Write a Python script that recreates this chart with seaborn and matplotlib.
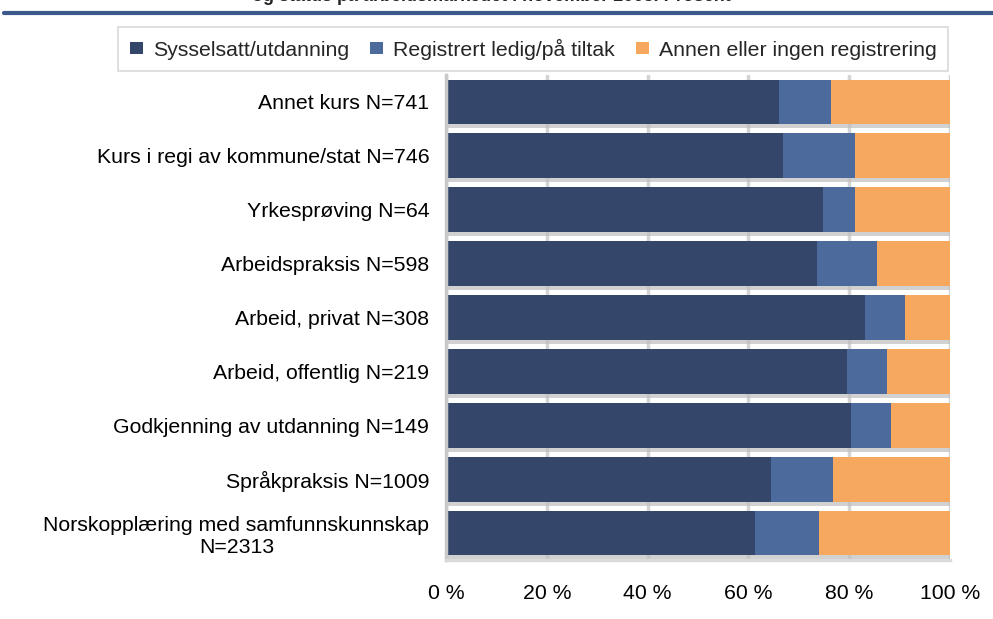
import numpy as np
import pandas as pd
import matplotlib
matplotlib.use("Agg")
import matplotlib.pyplot as plt
import matplotlib.patheffects as pe
from matplotlib.patches import Patch
import seaborn as sns

# data (percent), top to bottom as in the chart
kategorier = ['Annet kurs N=741',
              'Kurs i regi av kommune/stat N=746',
              'Yrkesprøving N=64',
              'Arbeidspraksis N=598',
              'Arbeid, privat N=308',
              'Arbeid, offentlig N=219',
              'Godkjenning av utdanning N=149',
              'Språkpraksis N=1009',
              'Norskopplæring med samfunnskunnskap\nN=2313']
sysselsatt = [66.1, 66.9, 74.8, 73.6, 83.1, 79.6, 80.4, 64.5, 61.3]
ledig = [10.3, 14.3, 6.4, 11.9, 8.0, 7.9, 7.9, 12.3, 12.7]
annen = [100 - a - b for a, b in zip(sysselsatt, ledig)]
serier = ['Sysselsatt/utdanning', 'Registrert ledig/på tiltak', 'Annen eller ingen registrering']
farger = ['#34476A', '#4C6A9C', '#F6A95E']

df = pd.DataFrame({'kat': kategorier, 's': sysselsatt, 'l': ledig, 'a': annen})
df['sl'] = df['s'] + df['l']
df['tot'] = df['sl'] + df['a']

sns.set_style('white')
plt.rcParams['font.family'] = ['Liberation Sans', 'DejaVu Sans']
fs = 15.3

fig = plt.figure(figsize=(9.93, 6.19), dpi=100)
ax = fig.add_axes([446 / 993, 1 - 560 / 619, 504 / 993, 485 / 619])

bw = 0.83
skygge = [pe.SimplePatchShadow(offset=(0, -3), shadow_rgbFace='#BEBEBE', alpha=0.7), pe.Normal()]
sns.barplot(data=df, x='tot', y='kat', color=farger[2], orient='h', width=bw, ax=ax,
            saturation=1, linewidth=0)
for p in ax.patches:
    p.set_path_effects(skygge)
sns.barplot(data=df, x='sl', y='kat', color=farger[1], orient='h', width=bw, ax=ax,
            saturation=1, linewidth=0)
sns.barplot(data=df, x='s', y='kat', color=farger[0], orient='h', width=bw, ax=ax,
            saturation=1, linewidth=0)

ax.set_xlim(0, 100)
ax.set_ylim(len(kategorier) - 0.5, -0.5)
ax.set_xticks([0, 20, 40, 60, 80, 100])
ax.set_xticklabels(['0 %', '20 %', '40 %', '60 %', '80 %', '100 %'])
ax.set_xlabel('')
ax.set_ylabel('')
ax.set_axisbelow(True)
ax.grid(axis='x', color='#D4D4D4', linewidth=2.5)
ax.grid(axis='y', visible=False)
for s in ['top', 'right']:
    ax.spines[s].set_visible(False)
ax.spines['left'].set_color('#C8C8C8')
ax.spines['left'].set_linewidth(2.5)
ax.spines['bottom'].set_color('#DADADA')
ax.spines['bottom'].set_linewidth(2.5)
ax.tick_params(axis='both', length=0, labelsize=fs, colors='black')
ax.tick_params(axis='x', pad=17)
ax.tick_params(axis='y', pad=12)
for t in ax.get_yticklabels():
    t.set_multialignment('center')

handles = [Patch(facecolor=c, edgecolor='none', label=l) for c, l in zip(farger, serier)]
leg = fig.legend(handles=handles, loc='upper right', bbox_to_anchor=(948 / 993, 1 - 27 / 619),
                 borderaxespad=0, ncol=3, frameon=True, fontsize=fs,
                 handlelength=0.62, handleheight=0.52, handletextpad=0.45,
                 columnspacing=1.0, borderpad=0.55, fancybox=False)
leg.get_frame().set_edgecolor('#D0D0D0')
leg.get_frame().set_linewidth(1.2)

# cut-off title and rule at the top
fig.text(0.495, 1.008, 'og status på arbeidsmarkedet i november 2008. Prosent',
         ha='center', va='center', fontsize=13, fontweight='bold')
fig.add_artist(plt.Line2D([4 / 993, 1], [1 - 13 / 619, 1 - 13 / 619], color='#3A5A8C',
                          linewidth=3, transform=fig.transFigure))

fig.savefig('out.png', dpi=100)
